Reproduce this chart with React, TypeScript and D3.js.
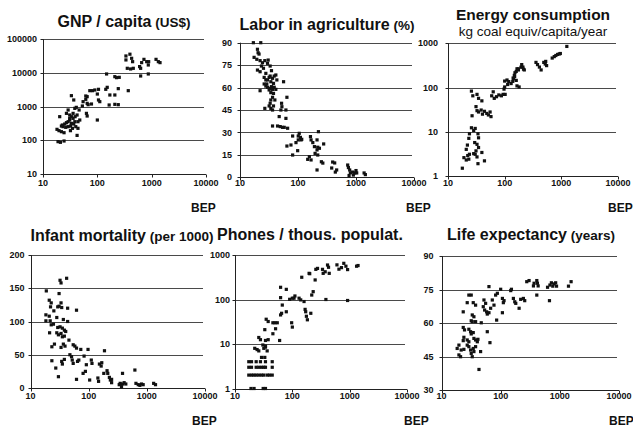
import React from 'react';
import * as d3 from 'd3';

type Pt = [number, number];

const bepTicks = [10, 100, 1000, 10000];
const gnpTicks = [10, 100, 1000, 10000, 100000];
const laborTicks = [0, 15, 30, 45, 60, 75, 90];
const energyTicks = [1, 10, 100, 1000];
const infantTicks = [0, 50, 100, 150, 200];
const phonesTicks = [1, 10, 100, 1000];
const lifeTicks = [30, 45, 60, 75, 90];

const gnpPoints: Pt[] = [
  [336, 31900], [336, 24300], [398, 36000], [428, 27200], [446, 21600], [356, 13700], [410, 13100], [459, 13700],
  [600, 15400], [721, 25300], [810, 21600], [881, 21600], [867, 17200], [654, 20200], [627, 13700], [627, 8090],
  [867, 9290], [1203, 25300], [1327, 21600], [1425, 20200],
  [148, 9290], [210, 7720], [226, 7220], [253, 7380], [371, 2960], [243, 3400], [143, 3244], [152, 3720],
  [170, 2200], [210, 2200], [165, 1109], [210, 1159], [243, 1134], [105, 3244], [100, 2350], [72.7, 2960],
  [81.5, 2960], [90, 3100], [65, 1964], [61.3, 2055], [61.3, 1635], [54.7, 1393], [53, 1035], [65, 1242],
  [67.7, 1134], [78, 1186], [105, 1563], [111, 1393], [63, 625], [65, 521], [100, 396],
  [33.3, 2100], [29, 787], [31, 558], [36.8, 1563], [38.5, 881], [41, 944], [46.2, 787], [42.4, 558], [39, 498],
  [35.8, 625], [33.3, 498], [31, 396], [29, 353], [27, 330], [25.1, 301], [23.4, 251], [20.3, 498], [22.7, 281],
  [26.2, 240], [29, 251], [32, 262], [34.8, 224], [38.5, 353], [44, 353], [47.5, 396], [42.4, 138], [18.1, 209],
  [19.7, 191], [21.8, 178], [24.4, 166], [18.9, 90], [20.9, 86], [24.4, 94], [31, 444], [35.8, 444], [33.3, 315],
  [40.1, 251], [44, 224], [27, 625], [21.8, 262], [32, 191], [36.8, 301],
];

const laborPoints: Pt[] = [
  [17, 90], [22.8, 90], [20, 85.6], [20.5, 83.3], [21.3, 82.4], [17.5, 80.2], [19.5, 78.9], [22.2, 78], [24.4, 76.6],
  [26.8, 78], [23.4, 74.4], [20, 71.7], [22.2, 70.6], [25.4, 72.9], [30.6, 78.4], [29.8, 76.2], [33.1, 74.4],
  [34.9, 71.3], [27.9, 69.5], [26.1, 66.8], [27.9, 65.1], [29.8, 65.1], [31.8, 66.8], [33.1, 67.7], [34, 63.9],
  [36.4, 66.2], [38.9, 67.7], [41.5, 68.4], [43.2, 65.1], [37.8, 62.8], [34.9, 60.6], [33.1, 59.5], [29.8, 60.2],
  [27.9, 61], [29, 62.4], [31.8, 58.4], [34, 56.6], [36.4, 58.8], [38.9, 60.2], [41.5, 58.8], [22.2, 57.9],
  [26.1, 62.4], [37.8, 56.1], [36.4, 53.5], [34, 51.7], [33.1, 49.5], [31.8, 47.7], [34, 46.1], [37.8, 47.7],
  [26.8, 46.1], [36.4, 45], [39.9, 51.7],
  [56.4, 63.9], [52.1, 49.5], [52.8, 47.2], [50.7, 45], [64.4, 53.5], [61.9, 45], [61.9, 39.4], [47.4, 40.6],
  [44.4, 34.3], [49.4, 33.9], [54.2, 33.4], [57.9, 33.4], [66.2, 32.8], [36.4, 34.3], [80.8, 27.6], [75.6, 21.6],
  [64.4, 20.9], [80.8, 14.9],
  [101, 27.6], [105, 29.4], [110, 26.7], [101, 25], [113, 25], [92.3, 23.2], [98.6, 17.8], [116, 25.4],
  [164, 27.2], [168, 25], [180, 23.2], [192, 20.5], [197, 16], [213, 18.3], [219, 20.1], [225, 30.5], [213, 25],
  [234, 19.4], [277, 22.3], [168, 11.6], [157, 13.8], [147, 12], [219, 14.9], [213, 4.9], [253, 10.4], [268, 9.5],
  [396, 10.2], [429, 9.6], [381, 6.2], [464, 4.9], [440, 3.5], [719, 8.2], [740, 6.5], [778, 4.9], [800, 3],
  [877, 3.5], [900, 1.5], [950, 2.9], [1000, 4.5], [1028, 2.9], [760, 1.2], [1380, 2.9], [1450, 1.8],
];

const energyPoints: Pt[] = [
  [17.9, 1.5], [19.1, 2.6], [21, 2.3], [23.3, 2.4], [22.3, 2.9], [23.9, 3.1], [25.9, 83], [27.4, 65], [32.5, 70],
  [34.6, 57], [39.6, 50], [31.2, 37], [32.5, 30], [34.6, 28], [38.5, 31], [40.6, 25], [44, 29], [48.3, 26],
  [51.6, 24], [55.3, 28], [57.4, 22], [26.6, 23], [25.9, 12.3], [23.9, 9], [23.3, 7.1], [22, 5], [21, 4],
  [28.4, 10.7], [30.2, 11.9], [33.8, 9], [34.6, 7.3], [29.6, 5.7], [32.5, 5.2], [34.6, 4.4], [31.2, 3.7],
  [28.4, 3.2], [30.2, 3.1], [32.5, 2.7], [39.6, 3.4], [44, 2.2], [33.8, 1.9],
  [62.8, 80], [59, 65], [65.5, 57], [71.8, 62], [78.9, 68], [87.5, 65], [93.7, 70], [102, 70], [97.4, 92],
  [100, 103], [113, 117], [130, 123], [139, 138], [144, 158], [148, 188], [152, 216], [160, 231], [174, 265],
  [194, 288], [165, 109], [180, 103], [100, 140], [110, 148], [118, 136],
  [141, 164], [150, 178], [160, 145], [200, 330], [210, 290], [215, 260], [222, 250], [165, 265], [175, 250],
  [357, 370], [380, 330], [410, 290], [440, 250], [490, 370], [520, 340], [550, 313], [530, 390], [690, 464],
  [750, 500], [800, 530], [860, 560], [920, 575], [960, 588], [1250, 850],
];

const infantPoints: Pt[] = [
  [32.2, 162], [33.5, 158], [41.8, 165], [18.7, 146], [31, 142], [21, 132], [22.7, 128], [33.5, 128], [31, 123],
  [34.4, 121], [29.4, 122], [43.5, 120], [61.8, 117], [22.1, 122], [25.2, 116], [18.4, 110], [21, 108], [28.3, 106],
  [18.4, 101], [21.8, 101], [36.7, 103], [43.5, 100], [22.7, 95], [24.8, 96], [29.4, 91], [32.2, 92], [35.3, 90],
  [38.2, 87], [40.3, 85], [28.3, 83], [30.2, 80], [33.5, 82], [35.3, 77], [21.3, 83], [38.2, 78], [23.3, 62],
  [25.8, 66], [33.5, 61], [36.7, 66], [39.2, 63], [54.2, 65], [57.9, 63], [61.8, 60], [45.8, 72], [73.2, 58],
  [97.5, 58], [23.3, 41], [27.2, 30], [34.4, 40], [35.3, 36], [38.2, 43], [47.6, 50], [50.8, 47], [52.2, 42],
  [64.3, 40], [67.7, 42], [54.2, 37], [83.4, 48], [91.2, 35], [111, 42], [114, 37], [80.2, 22], [87.9, 25],
  [61.8, 13], [104, 12], [30.2, 17], [153, 36], [164, 33], [168, 38], [187, 56], [144, 15], [148, 10], [182, 22],
  [207, 26], [213, 22], [227, 16], [236, 12], [248, 13], [248, 8], [348, 7], [382, 6], [407, 8], [435, 6],
  [382, 22], [335, 5], [367, 2],
  [623, 27], [650, 7], [712, 5], [760, 4], [810, 6], [865, 5], [1310, 7], [1410, 5],
];

const phonesPoints: Pt[] = [
  [19, 1], [21.5, 1], [31, 1], [34, 1],
  [17.4, 2], [19.4, 2], [21.3, 2], [23.4, 2], [26, 2], [29, 2], [31.8, 2], [36.4, 2], [40, 2], [44.6, 2],
  [17.4, 3], [19.4, 3], [23.4, 3], [26, 3], [29, 3], [31.8, 3], [34, 3], [44.6, 3],
  [17.4, 4], [19.4, 4], [23.4, 4], [27.8, 4], [34, 4], [44.6, 4],
  [29, 5], [33.1, 5],
  [22.1, 8], [24.3, 7.5], [26, 7], [31.8, 8], [34, 8.5], [36.4, 7],
  [30.6, 9.5], [34, 9],
  [26, 14], [27.8, 12.5], [34, 12], [37.9, 12.5],
  [33.1, 21], [45.8, 17], [35, 36], [37.9, 32], [45.8, 30], [49.7, 30], [54.6, 30], [51, 22],
  [62.4, 45], [65, 49], [66.8, 75], [78.5, 53], [60, 12], [62.4, 188], [78.5, 169], [62.4, 110],
  [97.3, 30], [100, 24], [89.8, 101], [100, 107], [107, 107], [111, 120], [131, 107], [140, 98],
  [160, 90], [167, 60], [171, 53], [176, 42], [183, 35], [210, 49], [218, 126], [231, 150],
  [146, 316], [196, 387], [201, 380], [250, 275], [257, 476], [275, 500],
  [336, 476], [345, 387], [374, 420], [411, 596], [428, 530], [440, 387], [385, 100],
  [600, 600], [650, 480], [720, 520], [790, 650], [860, 560], [920, 470], [920, 95], [1320, 560], [1400, 580],
];

const lifePoints: Pt[] = [
  [63.4, 76.3], [29, 72.5], [31.8, 72.5], [27.2, 69.1], [34.4, 69.1], [37.7, 68], [23.3, 65], [33.1, 63.6],
  [35.3, 62.8], [31.8, 61], [33.1, 60.6], [37.7, 60.6], [47, 60.1], [52.2, 70.3], [55.7, 68.8], [50.8, 67.3],
  [53.6, 65.8], [57.9, 65], [59.4, 64], [63.4, 64.6], [67.7, 66.6], [72.2, 70.3], [77.1, 68], [82.2, 72.5],
  [87.9, 73.3], [85.5, 61.3], [100, 75.1], [107, 71], [114, 70], [111, 69.1], [107, 64.6], [148, 74.5],
  [152, 75.1], [164, 71], [173, 69.5], [180, 68.8], [205, 66.6], [218, 70.6], [242, 71], [255, 70], [276, 78.5],
  [302, 79], [358, 76.6], [367, 77.8], [408, 79], [418, 77.8], [430, 76.6], [408, 72.5],
  [23.3, 58], [24.5, 56.9], [29, 57.2], [31, 56.1], [31.8, 55.1], [34.4, 55.7], [23.9, 53.6], [23.3, 52.1],
  [27.2, 52.4], [29, 51.6], [35.3, 53.1], [37.7, 52.4], [40.3, 51.6], [41.3, 52.7], [19.7, 50.1], [18.4, 48.6],
  [21.5, 47.9], [23.9, 48.2], [27.2, 50.1], [29, 49.4], [31, 47.9], [31.8, 46.4], [33.1, 44.9], [35.3, 47.2],
  [34.4, 48.6], [19.7, 45.7], [21, 44.9], [37.7, 49.4], [45.8, 47.2], [59.4, 56.1], [65.9, 51.2], [43, 39.2],
  [668, 70], [620, 76], [680, 77], [720, 78], [760, 76.5], [800, 77.5], [850, 78], [880, 76.5], [1400, 76.5],
  [1550, 78.5],
];

const FONT = "Arial, 'Liberation Sans', Helvetica, sans-serif";

interface Box { left: number; right: number; top: number; bottom: number; }
interface PanelProps {
  points: Pt[];
  yTicks: number[];
  log: boolean;
  box: Box;
  title: string;
  paren?: string;
  subtitle?: string;
  titleX: number;
  titleY: number;
  titleSize?: number;
  bepX: number;
  bepY: number;
  xLabelY: number;
  yGap: number;
}

function fmt(t: number) {
  return String(t);
}

function Panel(p: PanelProps) {
  const { box } = p;
  const x = d3.scaleLog().domain([10, 10000]).range([box.left, box.right]);
  const yDomain: [number, number] = [p.yTicks[0], p.yTicks[p.yTicks.length - 1]];
  const y = p.log
    ? d3.scaleLog().domain(yDomain).range([box.bottom, box.top])
    : d3.scaleLinear().domain(yDomain).range([box.bottom, box.top]);
  const r = (v: number) => Math.round(v) + 0.5;
  return (
    <g>
      {p.yTicks.slice(1).map((t) => (
        <line key={'g' + t} x1={box.left} x2={box.right - 2} y1={r(y(t))} y2={r(y(t))} stroke="#4a4a4a" strokeWidth={1} />
      ))}
      <line x1={r(box.left)} x2={r(box.left)} y1={box.top} y2={r(box.bottom)} stroke="#222" strokeWidth={1} />
      <line x1={box.left} x2={box.right} y1={r(box.bottom)} y2={r(box.bottom)} stroke="#222" strokeWidth={1} />
      {p.yTicks.map((t) => (
        <line key={'yt' + t} x1={r(box.left) - 3} x2={r(box.left)} y1={r(y(t))} y2={r(y(t))} stroke="#222" />
      ))}
      {bepTicks.map((t) => (
        <line key={'xt' + t} x1={r(x(t))} x2={r(x(t))} y1={r(box.bottom)} y2={r(box.bottom) + 3} stroke="#222" />
      ))}
      {p.yTicks.map((t) => (
        <text key={'yl' + t} x={box.left - p.yGap} y={y(t)} dy="0.35em" textAnchor="end" fontFamily={FONT}
          fontSize={9} fontWeight="bold" fill="#111">{fmt(t)}</text>
      ))}
      {bepTicks.map((t) => (
        <text key={'xl' + t} x={x(t)} y={p.xLabelY} textAnchor="middle" fontFamily={FONT}
          fontSize={9} fontWeight="bold" fill="#111">{fmt(t)}</text>
      ))}
      {p.points.map((d, i) => (
        <rect key={'p' + i} x={x(d[0]) - 1.6} y={y(d[1]) - 1.6} width={3.2} height={3.2} fill="#111" />
      ))}
      <text x={p.titleX} y={p.titleY} textAnchor="middle" fontFamily={FONT} fontSize={p.titleSize ?? 16}
        fontWeight="bold" fill="#111">
        {p.title}
        {p.paren ? <tspan fontSize={13.5}>{' ' + p.paren}</tspan> : null}
      </text>
      {p.subtitle ? (
        <text x={p.titleX} y={p.titleY + 15.8} textAnchor="middle" fontFamily={FONT} fontSize={13.5} fill="#111">{p.subtitle}</text>
      ) : null}
      <text x={p.bepX} y={p.bepY} fontFamily={FONT} fontSize={12} fontWeight="bold" fill="#111">BEP</text>
    </g>
  );
}

export default function App() {
  return (
    <svg width={633} height={427} viewBox="0 0 633 427"
      style={{ position: 'absolute', left: 0, top: 0, background: '#fff' }}>
      <rect x={0} y={0} width={633} height={427} fill="#fff" />
      <Panel points={gnpPoints} yTicks={gnpTicks} log box={{ left: 43, right: 206, top: 39.3, bottom: 173.7 }}
        title="GNP / capita" paren="(US$)" titleX={124} titleY={27} bepX={191} bepY={212} xLabelY={185.5} yGap={6} />
      <Panel points={laborPoints} yTicks={laborTicks} log={false} box={{ left: 240, right: 414, top: 42.7, bottom: 177.3 }}
        title="Labor in agriculture" paren="(%)" titleX={327} titleY={30} bepX={406} bepY={212} xLabelY={185.5} yGap={8} />
      <Panel points={energyPoints} yTicks={energyTicks} log box={{ left: 448, right: 618, top: 43.3, bottom: 176 }}
        title="Energy consumption" subtitle="kg coal equiv/capita/year" titleX={533} titleY={20} titleSize={15.5}
        bepX={608} bepY={212} xLabelY={185.5} yGap={10} />
      <Panel points={infantPoints} yTicks={infantTicks} log={false} box={{ left: 30.5, right: 205, top: 255, bottom: 388 }}
        title="Infant mortality" paren="(per 1000)" titleX={122} titleY={241} bepX={192} bepY={425} xLabelY={398.5} yGap={6} />
      <Panel points={phonesPoints} yTicks={phonesTicks} log box={{ left: 235, right: 407, top: 255, bottom: 388.5 }}
        title="Phones / thous. populat." titleX={310} titleY={240} bepX={404} bepY={425} xLabelY={398.5} yGap={5} />
      <Panel points={lifePoints} yTicks={lifeTicks} log={false} box={{ left: 441.5, right: 619, top: 256, bottom: 390 }}
        title="Life expectancy" paren="(years)" titleX={531} titleY={240} bepX={609} bepY={425} xLabelY={398.5} yGap={8} />
    </svg>
  );
}
